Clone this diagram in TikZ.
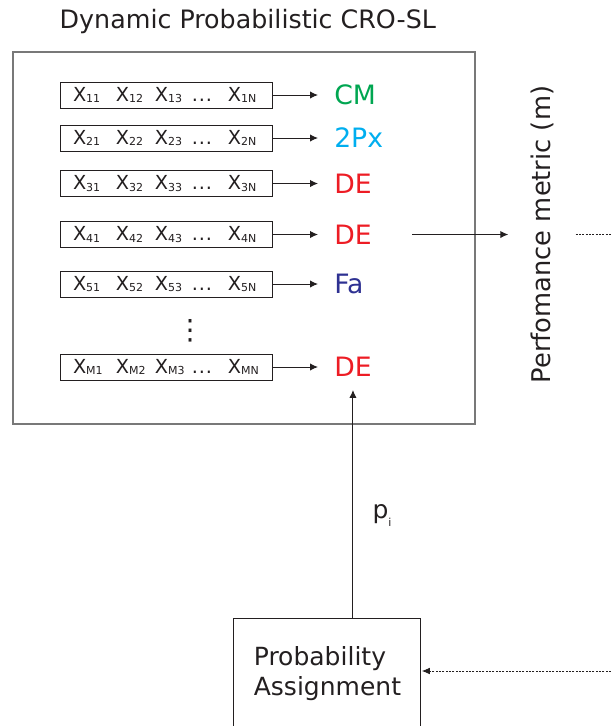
\documentclass[tikz,border=0pt]{standalone}
\usepackage{fontspec}
\setmainfont{DejaVu Sans}
\usetikzlibrary{arrows.meta}
\definecolor{crocolor0000}{RGB}{35,31,32}
\definecolor{crocolor0001}{RGB}{120,120,120}
\definecolor{crocolor0002}{RGB}{0,166,81}
\definecolor{crocolor0003}{RGB}{0,174,239}
\definecolor{crocolor0004}{RGB}{237,28,36}
\definecolor{crocolor0005}{RGB}{46,49,146}
\newcommand{\xsub}[1]{X\raisebox{-1.3pt}{\fontsize{8.25pt}{9pt}\selectfont #1}}
\newcommand{\xrow}[1]{\hspace*{9.75pt}\makebox[32.25pt][l]{\xsub{#11}}\makebox[29.25pt][l]{\xsub{#12}}\makebox[27.75pt][l]{\xsub{#13}}\makebox[27pt][l]{\makebox[15pt]{.\hfill.\hfill.}}\makebox[33pt][l]{\xsub{#1N}}}
\begin{document}
\begin{tikzpicture}[yscale=-1
                ,cstyle1/.style={color=crocolor0001,line width=1.1pt}
                ,cstyle2/.style={draw=crocolor0000,line width=0.75pt,minimum width=159pt,minimum height=19.5pt,inner sep=0pt,text=crocolor0000,font=\fontsize{14.5pt}{16pt}\selectfont}
                ,cstyle3/.style={anchor=west,inner xsep=12pt,inner ysep=9.75pt,font=\fontsize{20pt}{23pt}\selectfont}
                ,cstyle4/.style={color=crocolor0000,line width=0.75pt,-{Latex[length=6pt,width=5.5pt]}}
                ,cstyle5/.style={color=crocolor0000,line width=0.6pt,dash pattern=on 1.5pt off 1pt}
                ,cstyle6/.style={cstyle5,-{Latex[length=6pt,width=5pt]},shorten >=1pt}
                ,cstyle7/.style={text=crocolor0000,font=\fontsize{18.75pt}{22.5pt}\selectfont}
            ]
            \useasboundingbox (0pt,0pt) rectangle (458.25pt,544.5pt);
            \node at (44.6pt,21pt)[cstyle7,anchor=base west,inner sep=0pt,font=\fontsize{19pt}{22.5pt}\selectfont] (title) {Dynamic Probabilistic CRO-SL};
            \draw[cstyle1] (9.75pt,39pt) rectangle (356.25pt,318pt);
            % population rows
            \node at (124.5pt,71.25pt)[cstyle2] (row1) {\xrow{1}};
            \node at (124.5pt,103.5pt)[cstyle2] (row2) {\xrow{2}};
            \node at (124.5pt,137.625pt)[cstyle2] (row3) {\xrow{3}};
            \node at (124.5pt,175.875pt)[cstyle2] (row4) {\xrow{4}};
            \node at (124.5pt,213pt)[cstyle2] (row5) {\xrow{5}};
            \node at (142.5pt,248.25pt)[inner sep=0pt,text=crocolor0000,font=\fontsize{21pt}{24pt}\selectfont] (vdots) {⋮};
            \node at (124.5pt,275.25pt)[cstyle2] (rowM) {\xrow{M}};
            % operators
            \node at (238.5pt,71.25pt)[cstyle3,text=crocolor0002] (op1) {CM};
            \node at (238.5pt,103.5pt)[cstyle3,text=crocolor0003] (op2) {2Px};
            \node at (238.5pt,137.625pt)[cstyle3,text=crocolor0004] (op3) {DE};
            \node at (238.5pt,175.875pt)[cstyle3,text=crocolor0004] (op4) {DE};
            \node at (238.5pt,213pt)[cstyle3,text=crocolor0005] (op5) {Fa};
            \node at (238.5pt,275.25pt)[cstyle3,text=crocolor0004] (opM) {DE};
            \draw[cstyle4] (row1) -- (op1);
            \draw[cstyle4] (row2) -- (op2);
            \draw[cstyle4] (row3) -- (op3);
            \draw[cstyle4] (row4) -- (op4);
            \draw[cstyle4] (row5) -- (op5);
            \draw[cstyle4] (rowM) -- (opM);
            % metric and feedback
            \node at (406.5pt,175.875pt)[cstyle7,rotate=90,inner xsep=0pt,inner ysep=16.5pt,font=\fontsize{19.3pt}{22.5pt}\selectfont] (perf) {Perfomance metric (m)};
            \coordinate (mout) at (309pt,175.875pt);
            \coordinate (fbout) at (458.25pt,175.875pt);
            \draw[cstyle4] (mout) -- (perf);
            \draw[cstyle5] (perf) -- (fbout);
            \node at (244.875pt,508.5pt)[draw=crocolor0000,line width=0.75pt,minimum width=140.25pt,minimum height=90pt,inner sep=0pt] (pabox) {};
            \node at (245.6pt,505.1pt)[cstyle7,align=left,inner sep=0pt] (patext) {Probability\\Assignment};
            \draw[cstyle4] (opM.south |- pabox.north) -- node[pos=0.45,anchor=west,xshift=11pt,cstyle7] (plab) {p\raisebox{-6pt}{\fontsize{8.25pt}{9pt}\selectfont i}} (opM.south);
            \coordinate (fbin) at (458.25pt,503.25pt);
            \draw[cstyle6] (fbin) -- (fbin -| pabox.east);
        \end{tikzpicture}
\end{document}
